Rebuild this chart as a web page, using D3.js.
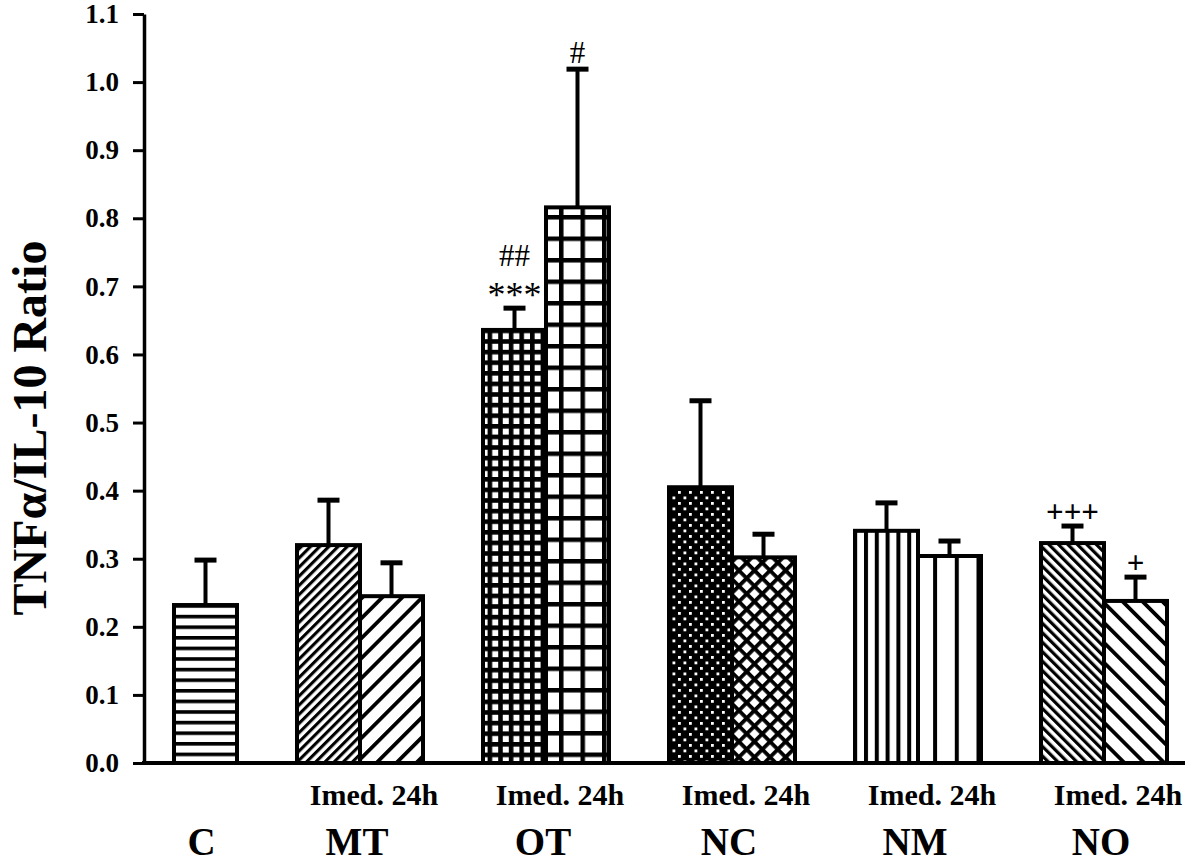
<!DOCTYPE html>
<html>
<head>
<meta charset="utf-8">
<script src="https://cdn.jsdelivr.net/npm/d3@7/dist/d3.min.js"></script>
<style>
  html, body { margin: 0; padding: 0; background: #fff; }
  svg { display: block; }
  text { font-family: "Liberation Serif", "Times New Roman", serif; fill: #000; }
</style>
</head>
<body>
<svg id="chart" width="1200" height="865"></svg>
<script>
// ---- data ----
const groups = ["C", "MT", "OT", "NC", "NM", "NO"];
const timepoints = ["Imed.", "24h"];
// The control (C) has a single bar, drawn in the second slot of its group.
const imedMeans = [null, 0.320, 0.636, 0.405, 0.341, 0.323];
const imedErrors = [null, 0.066, 0.032, 0.127, 0.041, 0.025];
const lateMeans = [0.232, 0.245, 0.816, 0.302, 0.304, 0.238];
const lateErrors = [0.066, 0.049, 0.203, 0.034, 0.022, 0.035];
const imedMarks = ["", "", ["***", "##"], "", "", ["+++"]];
const lateMarks = ["", "", ["#"], "", "", ["+"]];
const imedPatterns = [null, "diagDense", "gridSmall", "dotted", "vDense", "backDense"];
const latePatterns = ["hLines", "diagSparse", "gridLarge", "cross", "vSparse", "backSparse"];
const yTicks = [0.0, 0.1, 0.2, 0.3, 0.4, 0.5, 0.6, 0.7, 0.8, 0.9, 1.0, 1.1];
const subLabel = "Imed. 24h";
const yLabel = "TNF\u03B1/IL-10 Ratio";

// ---- layout ----
const svg = d3.select("#chart");
const y = d3.scaleLinear().domain([0, 1.1]).range([763, 14]);
const x = d3.scaleBand().domain(groups).range([111, 1167]).paddingInner(60 / 186).paddingOuter(0);
const xs = d3.scaleBand().domain(timepoints).range([0, x.bandwidth()]);

// ---- patterns ----
const defs = svg.append("defs");
function pat(id, w, h, rot) {
  const p = defs.append("pattern").attr("id", id).attr("patternUnits", "userSpaceOnUse")
    .attr("width", w).attr("height", h);
  if (rot) p.attr("patternTransform", `rotate(${rot})`);
  p.append("rect").attr("width", w).attr("height", h).attr("fill", "#fff");
  return p;
}
// horizontal lines
pat("hLines", 10, 10.6).append("rect").attr("y", 0).attr("width", 10).attr("height", 3.6).attr("fill", "#000");
// diagonal "/" lines
pat("diagDense", 6.5, 10, 45).append("rect").attr("width", 3.1).attr("height", 10).attr("fill", "#000");
pat("diagSparse", 14.1, 10, 45).append("rect").attr("width", 3.8).attr("height", 10).attr("fill", "#000");
// diagonal "\" lines
pat("backDense", 6.7, 10, -45).append("rect").attr("width", 3.2).attr("height", 10).attr("fill", "#000");
pat("backSparse", 14.1, 10, -45).append("rect").attr("width", 3.8).attr("height", 10).attr("fill", "#000");
// vertical lines
pat("vDense", 10.8, 10).append("rect").attr("width", 4).attr("height", 10).attr("fill", "#000");
pat("vSparse", 21.7, 10).append("rect").attr("width", 4).attr("height", 10).attr("fill", "#000");
// grids
{
  const p = pat("gridSmall", 10.6, 10.6);
  p.select("rect").attr("fill", "#000");
  p.append("rect").attr("x", 4.6).attr("y", 4.6).attr("width", 6).attr("height", 6).attr("fill", "#fff");
}
{
  const p = pat("gridLarge", 21.5, 21.5);
  p.select("rect").attr("fill", "#000");
  p.append("rect").attr("x", 4.5).attr("y", 4.5).attr("width", 17).attr("height", 17).attr("fill", "#fff");
}
// diagonal cross-hatch
{
  const p = pat("cross", 11, 11, 45);
  p.select("rect").attr("fill", "#000");
  p.append("rect").attr("x", 3.8).attr("y", 3.8).attr("width", 7.2).attr("height", 7.2).attr("fill", "#fff");
}
// dense dotted (black with small white holes)
{
  const p = pat("dotted", 11, 11);
  p.select("rect").attr("fill", "#000");
  p.append("rect").attr("x", 1.5).attr("y", 1.5).attr("width", 2.8).attr("height", 2.8).attr("fill", "#fff");
  p.append("rect").attr("x", 7).attr("y", 7).attr("width", 2.8).attr("height", 2.8).attr("fill", "#fff");
}

// ---- bar records built from arrays ----
const bars = [];
groups.forEach((g, i) => {
  if (imedMeans[i] != null) bars.push({ g, t: "Imed.", v: imedMeans[i], e: imedErrors[i], p: imedPatterns[i], m: imedMarks[i] });
  if (lateMeans[i] != null) bars.push({ g, t: "24h", v: lateMeans[i], e: lateErrors[i], p: latePatterns[i], m: lateMarks[i] });
});

const bx = d => x(d.g) + xs(d.t);

// bars
svg.append("g").selectAll("rect").data(bars).join("rect")
  .attr("x", bx)
  .attr("y", d => y(d.v))
  .attr("width", xs.bandwidth())
  .attr("height", d => y(0) - y(d.v))
  .attr("fill", d => `url(#${d.p})`)
  .attr("stroke", "#000")
  .attr("stroke-width", 4);

// error bars (upper only)
const eg = svg.append("g").attr("stroke", "#000");
eg.selectAll("line.stem").data(bars).join("line").attr("class", "stem")
  .attr("x1", d => bx(d) + xs.bandwidth() / 2).attr("x2", d => bx(d) + xs.bandwidth() / 2)
  .attr("y1", d => y(d.v)).attr("y2", d => y(d.v + d.e))
  .attr("stroke-width", 4);
eg.selectAll("line.cap").data(bars).join("line").attr("class", "cap")
  .attr("x1", d => bx(d) + xs.bandwidth() / 2 - 11).attr("x2", d => bx(d) + xs.bandwidth() / 2 + 11)
  .attr("y1", d => y(d.v + d.e)).attr("y2", d => y(d.v + d.e))
  .attr("stroke-width", 5);

// significance marks
bars.filter(d => d.m && d.m.length).forEach(d => {
  d.m.forEach((s, k) => {
    const isStar = s.indexOf("*") >= 0;
    const isPlus = s.indexOf("+") >= 0;
    svg.append("text")
      .attr("x", bx(d) + xs.bandwidth() / 2)
      .attr("y", y(d.v + d.e) - (isStar ? 1 : isPlus ? 4 : 6) - k * 36)
      .attr("text-anchor", "middle")
      .attr("font-size", isStar ? 36 : isPlus ? 31 : 31)
      .attr("font-weight", isPlus ? "bold" : "normal")
      .text(s);
  });
});

// axes
const yAxis = d3.axisLeft(y).tickValues(yTicks).tickFormat(d3.format(".1f"))
  .tickSize(11).tickSizeOuter(0).tickPadding(14);
const ya = svg.append("g").attr("transform", "translate(144,0)").call(yAxis);
ya.select(".domain").attr("stroke-width", 3.5);
ya.selectAll(".tick line").attr("stroke-width", 3);
ya.selectAll(".tick text").attr("font-family", "Liberation Serif, serif")
  .attr("font-weight", "bold").attr("font-size", 27).attr("fill", "#000");

svg.append("line").attr("x1", 142).attr("x2", 1185).attr("y1", y(0)).attr("y2", y(0))
  .attr("stroke", "#000").attr("stroke-width", 4);

// x labels
svg.append("g").selectAll("text").data(groups.filter((g, i) => imedMeans[i] != null)).join("text")
  .attr("x", g => x(g) + x.bandwidth() / 2 + 14)
  .attr("y", 805)
  .attr("text-anchor", "middle")
  .attr("font-weight", "bold").attr("font-size", 30)
  .text(subLabel);
svg.append("g").selectAll("text").data(groups).join("text")
  .attr("x", (g, i) => imedMeans[i] != null ? x(g) + x.bandwidth() / 2 - 3 : x(g) + xs("24h") + xs.bandwidth() / 2 - 4)
  .attr("y", 855)
  .attr("text-anchor", "middle")
  .attr("font-weight", "bold").attr("font-size", 39)
  .text(g => g);

// y label
svg.append("text")
  .attr("transform", "translate(46,428) rotate(-90)")
  .attr("text-anchor", "middle")
  .attr("font-weight", "bold").attr("font-size", 48)
  .text(yLabel);
</script>
</body>
</html>
